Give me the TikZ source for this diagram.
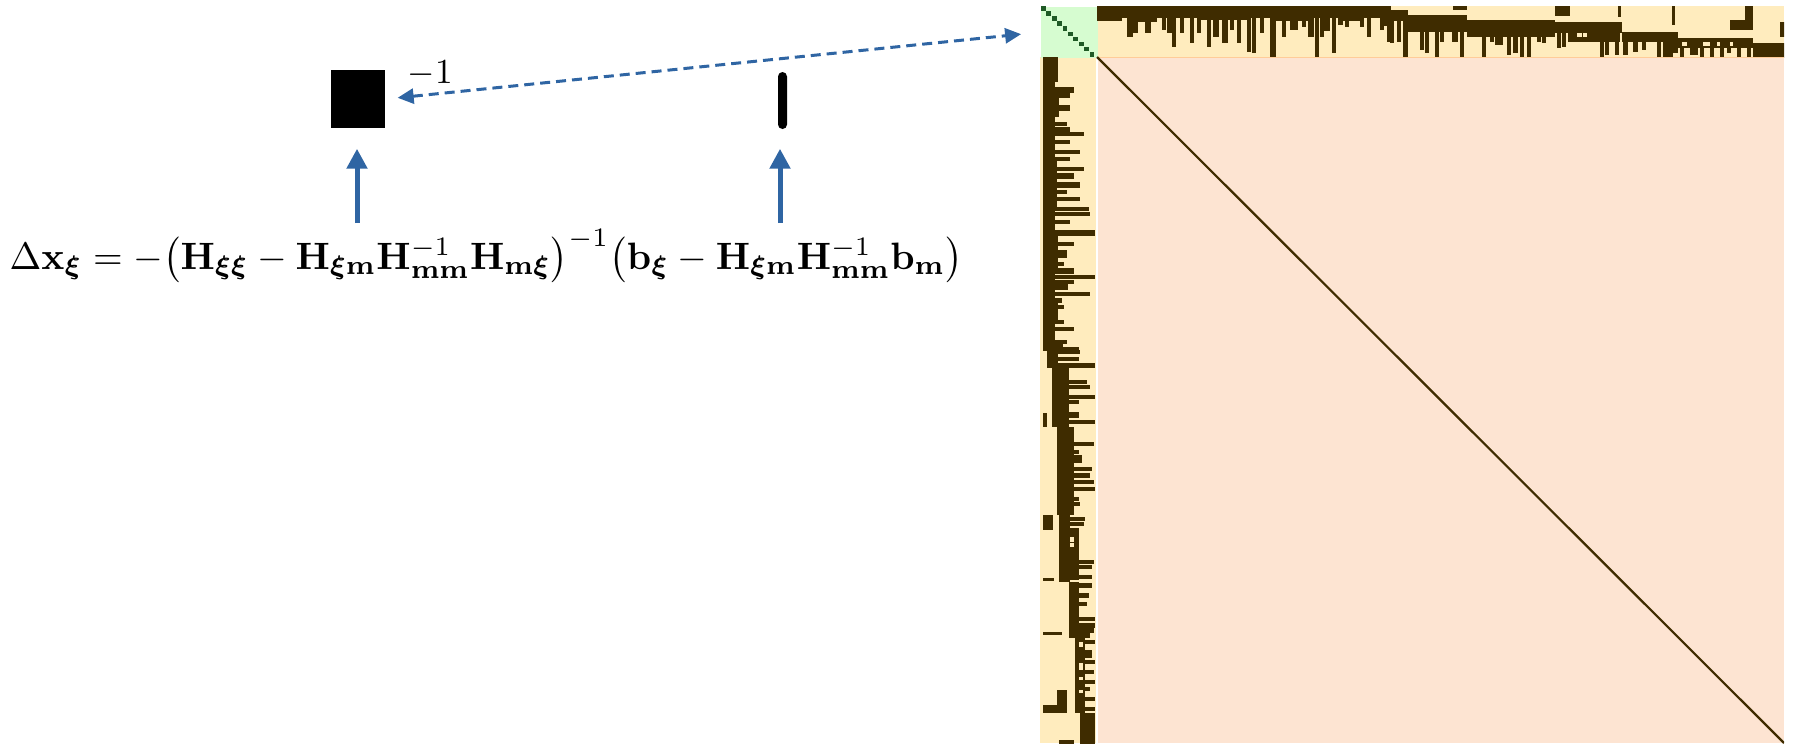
\documentclass[tikz,border=0pt]{standalone}
\usepackage{amsmath,bm,graphicx}
\usetikzlibrary{arrows.meta}
\definecolor{mdark}{HTML}{3F2C00}
\definecolor{myel}{HTML}{FFECBE}
\definecolor{mpeach}{HTML}{FDE4D2}
\definecolor{mgreen}{HTML}{D6FCD0}
\definecolor{mdgreen}{HTML}{1F5A26}
\definecolor{ablue}{HTML}{2F65A3}
\newcommand\stripband[4]{%
  \fill[mdark] (1097+#1,6+#3) rectangle (1097+#2,6+#4);
  \fill[mdark] (1043+#3,57+#1) rectangle (1043+#4,57+#2);}
\newcommand\striphole[4]{%
  \fill[myel] (1097+#1,6+#3) rectangle (1097+#2,6+#4);
  \fill[myel] (1043+#3,57+#1) rectangle (1043+#4,57+#2);}
\tikzset{
  uparrow/.style={draw=ablue, line width=0.5mm, -{Triangle[length=2mm,width=2mm]}},
  dasharrow/.style={draw=ablue, line width=0.3mm, dash pattern=on 1mm off 0.6mm,
    {Triangle[length=1.6mm,width=1.5mm]}-{Triangle[length=1.6mm,width=1.5mm]}},
  blockbox/.style={fill=black, inner sep=0, minimum width=5.4mm, minimum height=5.8mm},
  barbox/.style={fill=black, inner sep=0, minimum width=0.9mm, minimum height=5.7mm, rounded corners=0.45mm},
}
\begin{document}
\begin{tikzpicture}[x=0.1mm,y=-0.1mm]
\useasboundingbox (0,0) rectangle (1795,743);
% matrix background
\begin{scope}
\clip (1040,6) rectangle (1784,743);
\fill[mpeach] (1097,57) rectangle (1784,743);
\fill[myel] (1097,6) rectangle (1784,57);
\fill[myel] (1040,57) rectangle (1097,743);
\node[fill=mgreen, inner sep=0, minimum width=5.7mm, minimum height=5.1mm, anchor=north west] (ginv) at (1040,6) {};
\foreach \k in {0,...,9} {
  \fill[mdgreen] (1041+5.4*\k,6+5.1*\k) rectangle ++(4.8,4.6);
}
% bands
\foreach \ta/\tb/\da/\db in {0/293/0/12, 0/25/12/15, 40/60/12/16, 100/150/12/14,
  175/215/12/15, 223/233/12/25, 245/265/12/15, 283/293/12/20, 293/310/4/15,
  310/370/9/26, 356/370/0/4, 370/458/14/31, 458/473/0/10, 453/525/16/27,
  471/523/27/36, 521/524/0/11, 525/580/26/36, 575/578/0/19, 580/656/32/42,
  633/656/14/24, 648/656/0/14, 656/690/37/52, 683/690/16/31}
  {\stripband{\ta}{\tb}{\da}{\db}}
% bars
\foreach \ta/\w/\da/\db in {30/5/0/31, 36/4/0/27, 48/5/0/27, 65/3/0/24, 70/5/0/27,
  75/3/0/41, 83/3/0/27, 93/3/0/37, 100/3/0/27, 110/3/0/41, 116/5/0/31, 125/5/0/37,
  133/3/0/24, 140/3/0/37, 150/3/0/46, 155/3/0/47, 163/3/0/27, 173/5/0/52,
  185/3/0/31, 193/7/0/24, 205/3/0/21, 211/5/0/31, 218/3/0/52,
  223/3/0/31, 235/3/0/47, 241/4/0/19, 248/3/0/21, 263/3/0/21, 270/3/0/31,
  283/3/0/24, 290/3/0/36, 293/3/4/37, 300/3/4/36, 306/4/4/52, 323/3/9/44,
  328/3/9/47, 338/3/9/52, 343/3/9/36, 355/5/9/36, 363/3/9/52, 385/3/14/51,
  393/3/14/36, 398/7/14/39, 410/3/14/49, 416/4/14/47, 423/3/14/51, 430/3/14/52,
  440/3/14/36, 445/3/14/37,
  460/3/16/42, 465/3/16/41, 503/3/27/51, 508/3/27/49, 518/3/27/49, 526/4/26/49,
  536/4/26/46, 545/3/26/44, 560/3/26/52, 566/4/26/52, 571/4/26/51, 576/4/26/47,
  583/3/32/52, 593/7/32/49, 603/3/32/52, 613/3/32/51, 623/3/32/52, 630/3/32/47,
  640/3/32/52, 650/3/32/52}
  {\stripband{\ta-0.5}{\ta+\w+1}{\da}{\db}}
% holes
\foreach \ta/\tb/\da/\db in {480/485/27/31, 486/490/27/31, 585/590/36/40,
  606/613/36/40, 620/623/36/40, 633/636/36/40}
  {\striphole{\ta}{\tb}{\da}{\db}}
\draw[white, line width=0.15mm] (1097,57) -- (1097,743);
\draw[orange!40, line width=0.1mm] (1097,57) -- (1784,57);
\draw[mdark, line width=0.22mm] (1097,57) -- (1784,743);
\end{scope}
% blocks
\node[blockbox] (blk) at (358,99) {};
\node[anchor=base west, inner sep=0, font=\fontsize{10}{12}\selectfont] (inv) at (407,83) {$-1$};
\node[barbox] (bar) at (782.5,100.5) {};
% equation
\node[anchor=base west, inner sep=0] (eq) at (9,269) {\resizebox{95.3mm}{!}{$\Delta\mathbf{x}_{\boldsymbol{\xi}} = -\bigl(\mathbf{H}_{\boldsymbol{\xi\xi}} - \mathbf{H}_{\boldsymbol{\xi}\mathbf{m}}\mathbf{H}^{-1}_{\mathbf{mm}}\mathbf{H}_{\mathbf{m}\boldsymbol{\xi}}\bigr)^{-1}\bigl(\mathbf{b}_{\boldsymbol{\xi}} - \mathbf{H}_{\boldsymbol{\xi}\mathbf{m}}\mathbf{H}^{-1}_{\mathbf{mm}}\mathbf{b}_{\mathbf{m}}\bigr)$}};
% arrows
\coordinate (a1) at (357,223);
\coordinate (a2) at (780,223);
\draw[uparrow, shorten >=2mm] (a1) -- (a1 |- blk.south);
\draw[uparrow, shorten >=1.9mm] (a2) -- (a2 |- bar.south);
\draw[dasharrow, shorten <=1.2mm, shorten >=1.9mm] (blk.east |- 0,99) -- (ginv.west);
\end{tikzpicture}
\end{document}
